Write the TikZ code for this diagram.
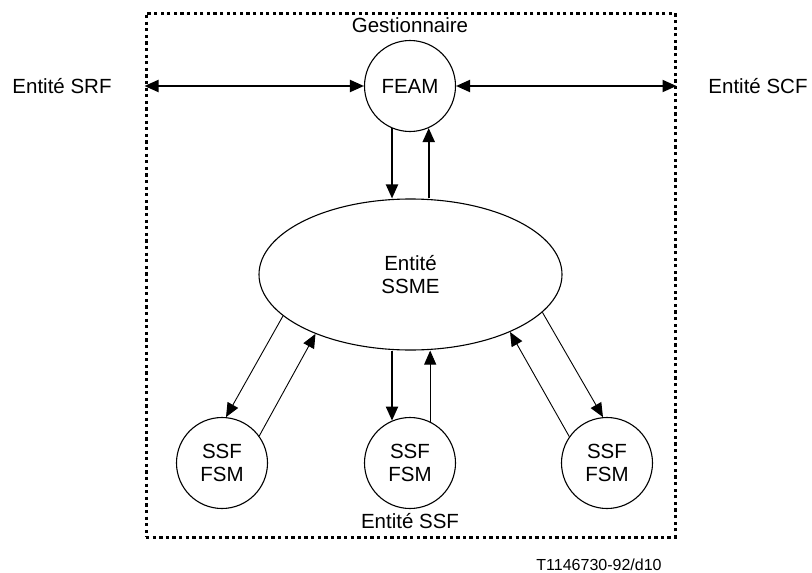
\documentclass[tikz,border=0pt]{standalone}
\usepackage{fontspec}
\setmainfont{Liberation Sans}
\usetikzlibrary{positioning, calc, arrows.meta, shapes.geometric}

\begin{document}
\begin{tikzpicture}[x=1pt, y=-1pt, >={Triangle[length=14pt,width=12pt]},
    every node/.style={font=\fontsize{20.5}{23}\selectfont},
    fsm/.style={circle, draw, line width=1.1pt, minimum size=91pt, inner sep=0pt, align=center},
    bigarrow/.style={->, line width=2pt},
    thinarrow/.style={->, line width=0.9pt}]

    \useasboundingbox (0,0) rectangle (812,573);

    % --- Manager box (dotted) ---
    \node[draw, line width=3pt, dash pattern=on 3.3pt off 3.3pt,
          minimum width=529pt, minimum height=524pt, inner sep=0pt] (mgr) at (410.5,275) {};
    \node (gest) at (410,25) {Gestionnaire};
    \node (ssflbl) at (410,521) {Entité SSF};

    % --- Top: FEAM and outside entities ---
    \node[fsm] (feam) at (410,86) {FEAM};
    \node (srf) at (62,86) {Entité SRF};
    \node (scf) at (758,86) {Entité SCF};
    \draw[<->, line width=2pt] (mgr.west |- feam.west) -- (feam.west);
    \draw[<->, line width=2pt] (feam.east) -- (mgr.east |- feam.east);

    % --- Middle: SSME entity ---
    \node[ellipse, draw, line width=1.1pt, minimum width=303pt, minimum height=151pt,
          inner sep=0pt, align=center] (ssme) at (410.5,274.5) {Entité\\SSME};
    \draw[bigarrow] (feam.247) -- (feam.247 |- ssme.north);
    \draw[bigarrow] (feam.294 |- ssme.north) -- (feam.294);

    % --- Bottom: SSF FSMs ---
    \node[fsm] (ssfL) at (222,463) {SSF\\FSM};
    \node[fsm] (ssfM) at (410,463) {SSF\\FSM};
    \node[fsm] (ssfR) at (607,463) {SSF\\FSM};

    % left pair
    \draw[thinarrow] (ssme.198) -- (ssfL.85);
    \draw[thinarrow] (ssfL.36) -- (ssme.212);
    % middle pair
    \draw[bigarrow] (ssme.south -| ssfM.113) -- (ssfM.113);
    \draw[thinarrow] (ssfM.64) -- (ssme.south -| ssfM.64);
    % right pair
    \draw[thinarrow] (ssfR.145) -- (ssme.330);
    \draw[thinarrow] (ssme.344) -- (ssfR.95);

    % --- Figure reference ---
    \node[font=\fontsize{16}{19}\selectfont] (ref) at (599,565) {T1146730-92/d10};

\end{tikzpicture}
\end{document}
